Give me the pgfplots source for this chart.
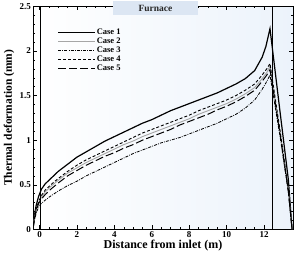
\documentclass[border=0pt]{standalone}
\usepackage{fontspec}
\setmainfont{Liberation Serif}
\usepackage{pgfplots}
\pgfplotsset{compat=1.18}
\definecolor{bgblue}{RGB}{236,243,251}
\definecolor{boxblue}{RGB}{220,230,243}
\begin{document}
\begin{tikzpicture}
\begin{axis}[
  scale only axis,
  width=260pt, height=223pt,
  xmin=-0.35, xmax=13.55, ymin=0, ymax=2.5,
  xtick={0,2,4,6,8,10,12},
  ytick={0,0.5,1,1.5,2,2.5},
  yticklabels={0,0.5,1,1.5,2,2.5},
  minor x tick num=3, minor y tick num=4,
  major tick length=4pt, minor tick length=2pt,
  tick style={black, line width=0.4pt},
  axis line style={line width=0.8pt},
  /pgf/number format/assume math mode=true,
  tick label style={font=\fontsize{9}{9.5}\selectfont\bfseries},
  xticklabel style={yshift=1.5pt},
  yticklabel style={xshift=1.5pt},
  xlabel={Distance from inlet (m)},
  ylabel={Thermal deformation (mm)},
  xlabel style={font=\fontsize{12}{13}\selectfont\bfseries, at={(axis description cs:0.5,-0.072)}, anchor=center},
  ylabel style={font=\fontsize{11.5}{12}\selectfont\bfseries, at={(axis description cs:-0.092,0.5)}, anchor=center},
  axis background/.style={left color=white, right color=bgblue},
  legend style={draw=none, fill=none, at={(axis description cs:0.09,0.91)}, anchor=north west,
    font=\fontsize{8.5}{9}\selectfont\bfseries, row sep=0pt, inner sep=1pt},
  legend cell align=left,
  every axis legend/.append style={nodes={inner sep=1pt}},
  legend image code/.code={\draw[#1] (0cm,0cm) -- (1.3cm,0cm);},
]
\addplot[black, line width=1.2pt] coordinates {
(-0.35,0) (-0.28,0.15) (-0.18,0.27) (-0.05,0.37) (0.1,0.45) (0.3,0.51) (0.6,0.57) (1,0.65) (1.5,0.73) (2,0.81) (2.5,0.87) (3,0.93) (3.5,0.99) (4,1.04) (4.5,1.09) (5,1.14) (5.5,1.19) (6,1.23) (6.5,1.28) (7,1.33) (7.5,1.37) (8,1.41) (8.5,1.45) (9,1.49) (9.5,1.53) (10,1.58) (10.5,1.63) (11,1.69) (11.5,1.78) (11.9,1.93) (12.1,2.05) (12.32,2.25) (12.85,1.33) (13.3,0.56) (13.5,0)};
\addlegendentry{Case 1}
\addplot[gray!70, line width=0.9pt] coordinates {
(-0.35,0) (-0.28,0.12) (-0.18,0.22) (-0.05,0.30) (0.1,0.36) (0.3,0.42) (0.6,0.48) (1,0.55) (1.5,0.63) (2,0.69) (2.5,0.75) (3,0.80) (3.5,0.85) (4,0.90) (4.5,0.95) (5,0.99) (5.5,1.04) (6,1.08) (6.5,1.12) (7,1.16) (7.5,1.20) (8,1.24) (8.5,1.29) (9,1.33) (9.5,1.37) (10,1.41) (10.5,1.46) (11,1.52) (11.5,1.59) (11.9,1.69) (12.15,1.76) (12.32,1.83) (12.85,1.10) (13.3,0.44) (13.5,0)};
\addlegendentry{Case 2}
\addplot[black, line width=0.8pt, dash pattern=on 3pt off 1.2pt on 0.8pt off 1.2pt] coordinates {
(-0.35,0) (-0.28,0.10) (-0.15,0.20) (0,0.27) (0.2,0.31) (0.5,0.36) (1,0.43) (1.5,0.49) (2,0.54) (2.5,0.60) (3,0.65) (3.5,0.70) (4,0.75) (4.5,0.80) (5,0.85) (5.5,0.89) (6,0.93) (6.5,0.97) (7,1.00) (7.5,1.03) (8,1.07) (8.5,1.11) (9,1.15) (9.5,1.19) (10,1.24) (10.5,1.29) (11,1.36) (11.5,1.45) (11.9,1.57) (12.15,1.66) (12.32,1.73) (12.85,1.05) (13.3,0.42) (13.5,0)};
\addlegendentry{Case 3}
\addplot[black, line width=0.9pt, dash pattern=on 3pt off 2pt] coordinates {
(-0.35,0) (-0.28,0.12) (-0.18,0.23) (-0.05,0.31) (0.1,0.38) (0.3,0.44) (0.6,0.50) (1,0.57) (1.5,0.65) (2,0.72) (2.5,0.78) (3,0.83) (3.5,0.88) (4,0.93) (4.5,0.98) (5,1.03) (5.5,1.08) (6,1.12) (6.5,1.16) (7,1.20) (7.5,1.24) (8,1.28) (8.5,1.33) (9,1.37) (9.5,1.41) (10,1.45) (10.5,1.50) (11,1.56) (11.5,1.63) (11.9,1.73) (12.15,1.80) (12.32,1.86) (12.85,1.12) (13.3,0.45) (13.5,0)};
\addlegendentry{Case 4}
\addplot[black, line width=1pt, dash pattern=on 8pt off 3pt] coordinates {
(-0.35,0) (-0.28,0.11) (-0.18,0.21) (-0.05,0.29) (0.1,0.34) (0.3,0.39) (0.6,0.45) (1,0.52) (1.5,0.60) (2,0.66) (2.5,0.72) (3,0.77) (3.5,0.82) (4,0.86) (4.5,0.91) (5,0.95) (5.5,1.00) (6,1.04) (6.5,1.08) (7,1.12) (7.5,1.17) (8,1.21) (8.5,1.25) (9,1.29) (9.5,1.34) (10,1.38) (10.5,1.43) (11,1.49) (11.5,1.56) (11.9,1.66) (12.15,1.73) (12.32,1.79) (12.85,1.08) (13.3,0.43) (13.5,0)};
\addlegendentry{Case 5}
\addplot[black, line width=0.8pt, forget plot] coordinates {(0.03,0) (0.03,2.5)};
\addplot[black, line width=0.8pt, forget plot] coordinates {(12.43,0) (12.43,2.5)};
\coordinate (sw) at (rel axis cs:0,0);
\coordinate (ne) at (rel axis cs:1,1);
\coordinate (fur) at (axis cs:6.2,2.5);
\end{axis}
\node[fill=boxblue, minimum width=85pt, minimum height=14pt, inner sep=0pt, yshift=-2pt,
  font=\fontsize{9.5}{10}\selectfont\bfseries, text=black!85] at (fur) {Furnace};
\path ([xshift=-33pt,yshift=-24pt]sw) rectangle ([xshift=4pt,yshift=5pt]ne);
\end{tikzpicture}
\end{document}
